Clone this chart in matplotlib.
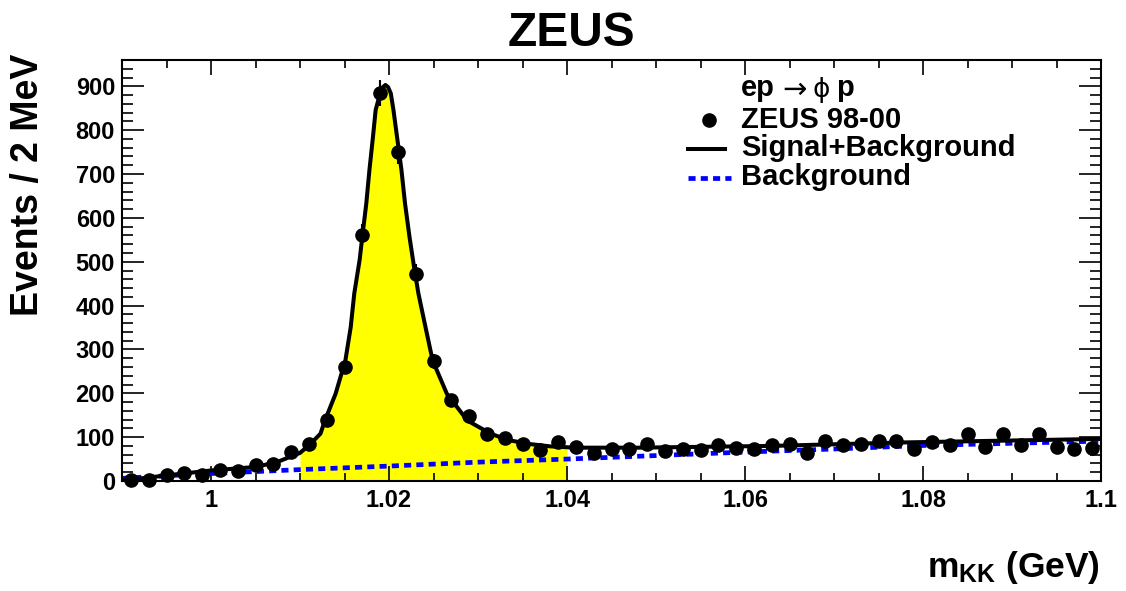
import numpy as np
import matplotlib
matplotlib.use("Agg")
import matplotlib.pyplot as plt
from matplotlib.ticker import FixedLocator, MultipleLocator
from matplotlib.lines import Line2D

plt.rcParams['font.family'] = ['Liberation Sans', 'DejaVu Sans']
plt.rcParams['font.weight'] = 'bold'
plt.rcParams['mathtext.fontset'] = 'custom'
plt.rcParams['mathtext.rm'] = 'Liberation Sans:bold'
plt.rcParams['mathtext.it'] = 'Liberation Sans:bold'
plt.rcParams['mathtext.bf'] = 'Liberation Sans:bold'

# ---- data: ZEUS 98-00 histogram (bin centres in GeV, events / 2 MeV) ----
mass = [0.991, 0.993, 0.995, 0.997, 0.999, 1.001, 1.003, 1.005, 1.007, 1.009,
        1.011, 1.013, 1.015, 1.017, 1.019, 1.021, 1.023, 1.025, 1.027, 1.029,
        1.031, 1.033, 1.035, 1.037, 1.039, 1.041, 1.043, 1.045, 1.047, 1.049,
        1.051, 1.053, 1.055, 1.057, 1.059, 1.061, 1.063, 1.065, 1.067, 1.069,
        1.071, 1.073, 1.075, 1.077, 1.079, 1.081, 1.083, 1.085, 1.087, 1.089,
        1.091, 1.093, 1.095, 1.097, 1.099]
events = [2, 3, 13, 19, 14, 25, 22, 36, 38, 66,
          84, 138, 260, 562, 885, 750, 473, 273, 184, 148,
          108, 99, 84, 70, 90, 78, 64, 72, 74, 84,
          68, 74, 70, 81, 75, 72, 81, 85, 64, 91,
          81, 84, 91, 91, 74, 89, 81, 108, 78, 107,
          83, 108, 78, 72, 75]

# ---- Signal+Background fit curve ----
fit_m = [0.990, 0.9913, 0.9951, 1.000, 1.005, 1.0074, 1.010, 1.0112, 1.0123, 1.0128,
         1.0140, 1.0151, 1.0157, 1.0161, 1.0167, 1.0170, 1.01745, 1.0178, 1.0182, 1.0185,
         1.0190, 1.0193, 1.0196, 1.0199, 1.0202, 1.0205, 1.0209, 1.0214, 1.0218, 1.0223,
         1.0228, 1.0233, 1.0241, 1.0249, 1.0265, 1.0288, 1.0314, 1.0333, 1.0355, 1.0381,
         1.0400, 1.0407, 1.048, 1.063, 1.078, 1.100]
fit_v = [2, 4, 13, 24, 32, 43, 64, 85, 108, 138,
         199, 275, 351, 428, 504, 557, 633, 709, 785, 846,
         884, 898, 903, 898, 884, 846, 785, 709, 633, 557,
         490, 428, 351, 275, 199, 138, 108, 94, 85, 79,
         77, 76, 76, 80, 88, 96]

# ---- Background curve ----
bkg_m = [0.990, 0.995, 1.000, 1.010, 1.020, 1.030, 1.040, 1.050, 1.060, 1.070, 1.080, 1.090, 1.100]
bkg_v = [6, 12, 17, 26, 34, 43, 50, 58, 66, 73, 81, 86, 91]

# signal window (GeV)
window = [1.010, 1.040]

xticks = [1.00, 1.02, 1.04, 1.06, 1.08, 1.10]
xticklabels = ["1", "1.02", "1.04", "1.06", "1.08", "1.1"]
yticks = [0, 100, 200, 300, 400, 500, 600, 700, 800, 900]

W, H = 1126, 591
fig = plt.figure(figsize=(W / 100, H / 100), dpi=100)
ax = fig.add_axes([122 / W, 1 - 481 / H, (1101 - 122) / W, (481 - 60) / H])

fm = np.array(fit_m)
fv = np.array(fit_v)
sel = (fm >= window[0]) & (fm <= window[1])
ax.fill_between(fm[sel], 0, fv[sel], color="#ffff00", lw=0, zorder=1)

BLUE_DASH = (1.5, 1.1)
ax.plot(bkg_m, bkg_v, color="#0000ff", lw=3.4, dashes=BLUE_DASH, zorder=2)
ax.plot(fit_m, fit_v, color="black", lw=2.9, zorder=3, solid_joinstyle="round")

ev = np.array(events, dtype=float)
ax.errorbar(mass, ev, yerr=np.sqrt(ev), fmt="o", color="black", ms=9.5,
            elinewidth=1.5, capsize=0, zorder=4, clip_on=False)

ax.set_xlim(0.990, 1.100)
ax.set_ylim(0, 960)
ax.xaxis.set_major_locator(FixedLocator(xticks))
ax.set_xticklabels(xticklabels)
ax.xaxis.set_minor_locator(MultipleLocator(0.005))
ax.yaxis.set_major_locator(FixedLocator(yticks))
ax.yaxis.set_minor_locator(MultipleLocator(20))
ax.tick_params(which="both", direction="in", top=True, right=True, width=1.2)
ax.tick_params(axis="x", which="major", length=11, pad=6, labelsize=17)
ax.tick_params(axis="x", which="minor", length=5.5)
ax.tick_params(axis="y", which="major", length=16, pad=5, labelsize=17)
ax.tick_params(axis="y", which="minor", length=8)
for lab in ax.get_xticklabels() + ax.get_yticklabels():
    lab.set_fontweight("bold")
for s in ax.spines.values():
    s.set_linewidth(1.5)

fig.text(571 / W, 1 - 33 / H, "ZEUS", ha="center", va="center", fontsize=34.5, fontweight="bold")
fig.text(28 / W, 1 - 185 / H, "Events / 2 MeV", ha="center", va="center",
         rotation=90, fontsize=27, fontweight="bold")
fig.text(1100 / W, 1 - 567 / H, r"m$_{\mathrm{KK}}$ (GeV)", ha="right", va="center",
         fontsize=25.5, fontweight="bold")

# legend (drawn manually to match layout)
LFS = 21
tx = 741 / W
ty = 1 - 88 / H
fig.text(tx, ty, "ep", ha="left", va="center", fontsize=LFS, fontweight="bold")
fig.text(782 / W, ty - 2 / H, "\u2192", ha="left", va="center", fontsize=LFS,
         fontweight="normal", family="DejaVu Sans")
fig.text(813 / W, ty - 2 / H, "\u03d5", ha="left", va="center", fontsize=LFS - 2,
         fontweight="normal", family="DejaVu Sans")
fig.text(836 / W, ty, "p", ha="left", va="center", fontsize=LFS, fontweight="bold")
fig.text(tx, 1 - 120 / H, "ZEUS 98-00", ha="left", va="center", fontsize=LFS, fontweight="bold")
fig.text(tx, 1 - 148 / H, "Signal+Background", ha="left", va="center", fontsize=LFS, fontweight="bold")
fig.text(tx, 1 - 177 / H, "Background", ha="left", va="center", fontsize=LFS, fontweight="bold")
fig.add_artist(Line2D([709 / W], [1 - 120 / H], marker="o", ms=9.5, color="black", lw=0))
fig.add_artist(Line2D([688 / W, 725 / W], [1 - 149 / H, 1 - 149 / H], color="black", lw=2.9))
fig.add_artist(Line2D([688 / W, 731 / W], [1 - 178 / H, 1 - 178 / H], color="#0000ff", lw=3.4,
                      dashes=BLUE_DASH))

fig.savefig("out.png", dpi=100)
